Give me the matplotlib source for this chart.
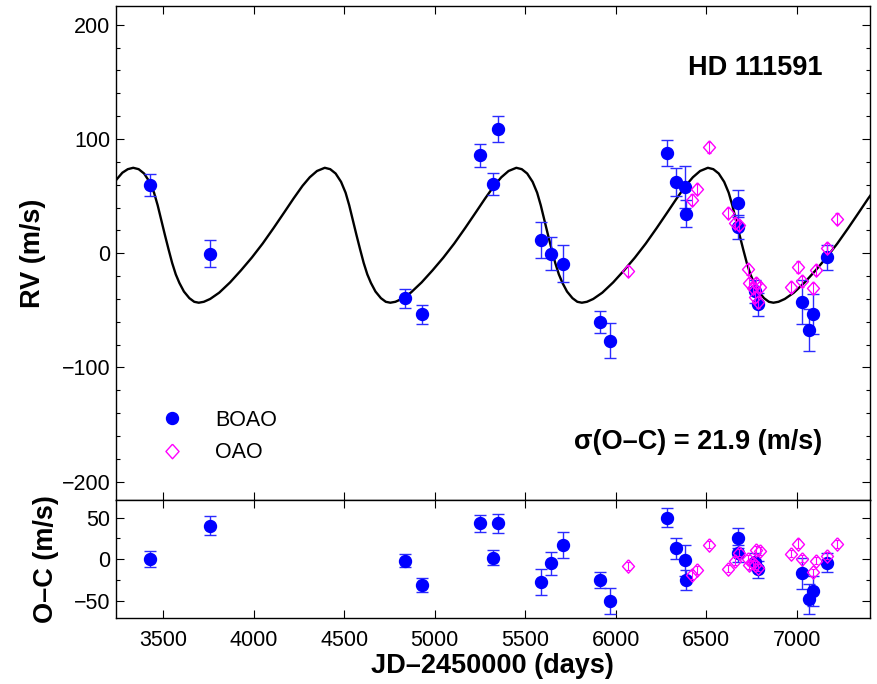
import matplotlib
matplotlib.use("Agg")
import matplotlib.pyplot as plt
from matplotlib.lines import Line2D
from matplotlib.ticker import MultipleLocator

plt.rcParams['font.family'] = ['Liberation Sans', 'DejaVu Sans']

# ------------------------------------------------------------
# Dados (JD-2450000, m/s)
# ------------------------------------------------------------
boao_day = [3430, 3758, 4835, 4929, 5249, 5324, 5351, 5585, 5640, 5708, 5913, 5970,
            6281, 6334, 6384, 6388, 6677, 6677, 6769, 6784, 7027, 7067, 7091, 7167]
boao_rv = [59.7, -0.3, -39.6, -53.5, 85.6, 60.6, 108.6, 11.7, -0.3, -9.0, -60.3, -76.5,
           87.9, 62.3, 58.0, 34.7, 43.7, 22.7, -33.2, -44.8, -42.8, -67.2, -53.0, -3.5]
boao_err = [9.4, 11.5, 7.9, 8.6, 9.8, 9.5, 11.2, 15.6, 14.1, 16.0, 9.9, 15.6,
            11.5, 12.4, 18.5, 12.0, 12.0, 10.5, 10.0, 10.2, 19.0, 18.0, 17.5, 11.0]
boao_oc = [0, 40, -2, -31, 43, 2, 43, -27, -5, 17, -25, -50,
           50, 13, -1, -25, 26, 7, -3, -12, -17, -48, -38, -4]

oao_day = [6069, 6423, 6450, 6515, 6622, 6659, 6681, 6732, 6738, 6758, 6770,
           6775, 6785, 6795, 6966, 7005, 7030, 7091, 7106, 7167, 7220]
oao_rv = [-15.7, 46.9, 56.5, 92.6, 35.3, 26.6, 24.5, -14.2, -26.0, -30.5, -38.0,
          -26.0, -43.0, -29.5, -29.7, -12.2, -24.7, -30.8, -14.8, 4.7, 30.3]
oao_err = [4.5, 5.0, 4.5, 4.5, 4.5, 4.5, 4.5, 4.5, 4.5, 4.5, 4.5,
           4.5, 4.5, 4.5, 4.5, 5.0, 4.5, 4.5, 4.5, 4.5, 4.5]
oao_oc = [-8, -18.4, -13.2, 17.6, -11.2, -2.4, 8, 0.8, -7.2, -5, -7,
          10.8, -10, 9.6, 6.8, 18.8, 0.8, -15.8, -1.6, 4.4, 18]

# curva do ajuste orbital (pontos lidos ao longo da linha)
fit_day = [3240, 3275, 3305, 3335, 3365, 3395, 3425, 3450, 3470, 3490, 3510, 3530,
           3550, 3570, 3590, 3615, 3645, 3672, 3697, 3725, 3760, 3810, 3870, 3930,
           3990, 4050, 4110, 4170, 4220, 4270, 4310, 4350,
           4393, 4423, 4453, 4483, 4508, 4528, 4548, 4568, 4588, 4608, 4628, 4648,
           4673, 4703, 4730, 4755, 4783, 4818, 4868, 4928, 4988, 5048, 5108, 5168,
           5228, 5278, 5328, 5368, 5408,
           5451, 5481, 5511, 5541, 5566, 5586, 5606, 5626, 5646, 5666, 5686, 5706,
           5731, 5761, 5788, 5813, 5841, 5876, 5926, 5986, 6046, 6106, 6166, 6226,
           6286, 6336, 6386, 6426, 6466,
           6509, 6539, 6569, 6599, 6624, 6644, 6664, 6684, 6704, 6724, 6744, 6764,
           6789, 6819, 6846, 6871, 6899, 6934, 6984, 7044, 7104, 7164, 7224, 7284,
           7344, 7394, 7420]
fit_rv = [64.0, 70.5, 73.6, 74.8, 73.6, 69.8, 62.5, 53.0, 42.0, 29.0, 16.0, 3.5,
          -8.5, -18.5, -26.0, -33.5, -39.3, -42.5, -43.3, -42.5, -40.0, -34.5, -25.5, -15.0,
          -3.8, 8.5, 22.0, 36.0, 47.8, 59.0, 66.5, 72.0,
          74.8, 73.6, 69.8, 62.5, 53.0, 42.0, 29.0, 16.0, 3.5, -8.5, -18.5, -26.0,
          -33.5, -39.3, -42.5, -43.3, -42.5, -40.0, -34.5, -25.5, -15.0, -3.8, 8.5, 22.0,
          36.0, 47.8, 59.0, 66.5, 72.0,
          74.8, 73.6, 69.8, 62.5, 53.0, 42.0, 29.0, 16.0, 3.5, -8.5, -18.5, -26.0,
          -33.5, -39.3, -42.5, -43.3, -42.5, -40.0, -34.5, -25.5, -15.0, -3.8, 8.5, 22.0,
          36.0, 47.8, 59.0, 66.5, 72.0,
          74.8, 73.6, 69.8, 62.5, 53.0, 42.0, 29.0, 16.0, 3.5, -8.5, -18.5, -26.0,
          -33.5, -39.3, -42.5, -43.3, -42.5, -40.0, -34.5, -25.5, -15.0, -3.8, 8.5, 22.0,
          36.0, 47.8, 53.5]

# diamante um pouco mais alto que largo
diamond = [(0, 1), (0.9, 0), (0, -1), (-0.9, 0), (0, 1)]

fig = plt.figure(figsize=(8.77, 6.84), dpi=100)
ax1 = fig.add_axes([0.1323, 0.2690, 0.8592, 0.7215])
ax2 = fig.add_axes([0.1323, 0.0958, 0.8592, 0.1732])

tick_fs = 15.5
label_fs = 19.5

# ------------------------------------------------------------
# Painel de cima: RV
# ------------------------------------------------------------
ax1.plot(fit_day, fit_rv, color='black', lw=1.7, zorder=2)
ax1.errorbar(boao_day, boao_rv, yerr=boao_err, fmt='o', color='blue', ms=8.6,
             ecolor='#2b2bff', elinewidth=1.0, capsize=4.6, capthick=1.0, zorder=3)
ax1.errorbar(oao_day, oao_rv, yerr=oao_err, fmt='none', ecolor='magenta',
             elinewidth=0.8, capsize=1.6, capthick=0.8, zorder=4)
ax1.plot(oao_day, oao_rv, ls='none', marker=diamond, ms=9.6, mfc='none',
         mec='magenta', mew=1.0, zorder=4)

ax1.set_xlim(3240, 7402)
ax1.set_ylim(-216, 216)
ax1.yaxis.set_major_locator(MultipleLocator(100))
ax1.yaxis.set_minor_locator(MultipleLocator(20))
ax1.xaxis.set_major_locator(MultipleLocator(500))
ax1.tick_params(labelbottom=False)
ax1.set_ylabel("RV (m/s)", fontsize=label_fs, fontweight='bold', labelpad=11)

ax1.text(0.937, 0.875, "HD 111591", transform=ax1.transAxes, ha='right', va='center',
         fontsize=label_fs, fontweight='bold')
ax1.text(0.937, 0.118, "σ(O–C) = 21.9 (m/s)", transform=ax1.transAxes, ha='right',
         va='center', fontsize=label_fs, fontweight='bold')

handles = [Line2D([], [], ls='none', marker='o', color='blue', ms=8.6),
           Line2D([], [], ls='none', marker=diamond, ms=10.5, mfc='none',
                  mec='magenta', mew=1.0)]
ax1.legend(handles, ["BOAO", "OAO"], loc='upper left', bbox_to_anchor=(0.046, 0.183),
           frameon=False, fontsize=tick_fs, handlelength=2.0, handletextpad=1.0,
           labelspacing=0.54, borderpad=0, borderaxespad=0)

# ------------------------------------------------------------
# Painel de baixo: O-C
# ------------------------------------------------------------
ax2.errorbar(boao_day, boao_oc, yerr=boao_err, fmt='o', color='blue', ms=8.6,
             ecolor='#2b2bff', elinewidth=1.0, capsize=4.6, capthick=1.0, zorder=3)
ax2.errorbar(oao_day, oao_oc, yerr=oao_err, fmt='none', ecolor='magenta',
             elinewidth=0.8, capsize=1.6, capthick=0.8, zorder=4)
ax2.plot(oao_day, oao_oc, ls='none', marker=diamond, ms=9.6, mfc='none',
         mec='magenta', mew=1.0, zorder=4)

ax2.set_xlim(3240, 7402)
ax2.set_ylim(-71, 71)
ax2.yaxis.set_major_locator(MultipleLocator(50))
ax2.yaxis.set_minor_locator(MultipleLocator(25))
ax2.xaxis.set_major_locator(MultipleLocator(500))
ax2.set_ylabel("O–C (m/s)", fontsize=label_fs, fontweight='bold', labelpad=11)
ax2.set_xlabel("JD–2450000 (days)", fontsize=label_fs, fontweight='bold', labelpad=2)

for ax in (ax1, ax2):
    ax.tick_params(which='both', direction='in', top=True, right=True, width=0.8)
    ax.tick_params(which='major', length=6)
    ax.tick_params(which='minor', length=3)
    ax.tick_params(axis='y', labelsize=tick_fs, pad=4)
    ax.tick_params(axis='x', labelsize=tick_fs, pad=8)
    for sp in ax.spines.values():
        sp.set_linewidth(1.0)

fig.savefig("out.png", dpi=100)
